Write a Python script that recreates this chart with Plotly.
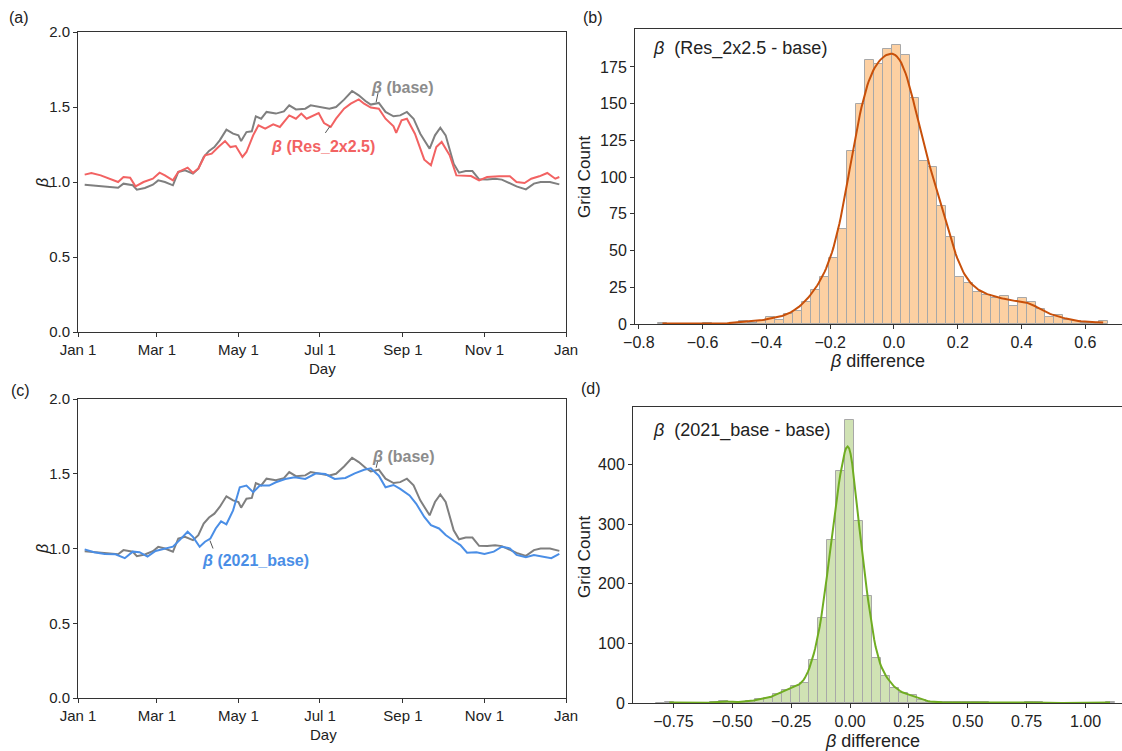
import numpy as np
import plotly.graph_objects as go

W, H = 1122, 751

# ---------------- data ----------------
month_tick_days = [0, 59, 120, 181, 243, 304, 365]
month_tick_text = ["Jan 1", "Mar 1", "May 1", "Jul 1", "Sep 1", "Nov 1", "Jan"]

base_day = [5, 23, 30, 34, 41, 44, 50, 56, 60, 65, 71, 75, 80, 86, 90, 94, 98, 102, 106, 111,
            116, 120, 122, 126, 130, 133, 137, 141, 148, 154, 158, 163, 170, 174, 181, 188,
            193, 199, 205, 210, 215, 219, 225, 230, 236, 241, 246, 251, 256, 263, 267, 271,
            275, 281, 285, 290, 295, 300, 306, 312, 317, 323, 328, 335, 341, 346, 353, 360]
base_beta = [0.982, 0.971, 0.962, 0.989, 0.978, 0.949, 0.960, 0.982, 1.011, 1.000, 0.978,
             1.067, 1.078, 1.056, 1.089, 1.167, 1.207, 1.233, 1.278, 1.349, 1.322, 1.311,
             1.273, 1.333, 1.338, 1.438, 1.422, 1.467, 1.456, 1.471, 1.511, 1.484, 1.489,
             1.511, 1.500, 1.489, 1.500, 1.549, 1.607, 1.578, 1.540, 1.516, 1.527, 1.467,
             1.438, 1.444, 1.467, 1.422, 1.322, 1.222, 1.311, 1.362, 1.311, 1.122, 1.062,
             1.073, 1.073, 1.018, 1.016, 1.022, 1.016, 0.989, 0.971, 0.951, 0.989, 1.000,
             1.000, 0.984]

res_day = [5, 10, 17, 26, 30, 34, 39, 43, 49, 56, 61, 65, 71, 75, 82, 86, 90, 95, 100, 105,
           110, 114, 118, 123, 126, 131, 135, 140, 146, 151, 158, 163, 167, 171, 180, 184,
           189, 193, 199, 204, 210, 214, 219, 225, 230, 236, 238, 242, 246, 252, 259, 264,
           268, 272, 278, 283, 289, 294, 300, 306, 315, 323, 328, 334, 339, 345, 351, 357, 360]
res_beta = [1.049, 1.060, 1.044, 1.016, 1.000, 1.033, 1.029, 0.971, 1.000, 1.022, 1.062,
            1.044, 1.011, 1.067, 1.096, 1.060, 1.089, 1.178, 1.189, 1.233, 1.273, 1.233,
            1.240, 1.167, 1.200, 1.311, 1.378, 1.356, 1.384, 1.367, 1.444, 1.422, 1.456,
            1.422, 1.460, 1.393, 1.367, 1.422, 1.489, 1.522, 1.551, 1.522, 1.496, 1.489,
            1.422, 1.371, 1.327, 1.411, 1.422, 1.322, 1.149, 1.111, 1.233, 1.267, 1.178,
            1.044, 1.044, 1.040, 1.011, 1.033, 1.038, 1.038, 1.000, 0.993, 1.022, 1.038,
            1.060, 1.022, 1.033]

y2021_day = [5, 12, 20, 28, 35, 41, 46, 52, 58, 65, 71, 76, 82, 86, 91, 95, 99, 103, 107, 111,
             116, 121, 126, 131, 136, 143, 148, 155, 162, 170, 178, 185, 192, 200, 207, 214,
             219, 225, 230, 236, 241, 248, 253, 259, 264, 270, 275, 281, 286, 291, 298, 304,
             311, 317, 323, 328, 335, 341, 347, 354, 360]
y2021_beta = [0.994, 0.975, 0.964, 0.961, 0.935, 0.979, 0.975, 0.946, 0.983, 1.001, 1.012,
              1.056, 1.112, 1.078, 1.012, 1.045, 1.067, 1.134, 1.182, 1.162, 1.255, 1.410,
              1.421, 1.377, 1.421, 1.421, 1.443, 1.465, 1.476, 1.465, 1.503, 1.498, 1.465,
              1.472, 1.503, 1.527, 1.536, 1.487, 1.410, 1.425, 1.399, 1.355, 1.299, 1.211,
              1.156, 1.134, 1.090, 1.052, 1.023, 0.972, 0.975, 0.964, 0.979, 1.012, 1.001,
              0.957, 0.941, 0.957, 0.946, 0.935, 0.964]

# histogram (b): Res_2x2.5 - base
hist_b_start = -0.74
hist_b_width = 0.0282
hist_b_counts = [1, 0, 0, 0, 0, 1, 0, 0, 1, 2, 1, 2, 5, 3, 7, 9, 15, 23, 32, 45,
                 65, 118, 150, 180, 177, 187, 190, 183, 154, 111, 107, 80, 59, 32, 28, 22,
                 20, 18, 19, 12, 18, 15, 10, 5, 6, 3, 2, 1, 1, 2]

# histogram (d): 2021_base - base
hist_d_start = -0.825
hist_d_width = 0.0382
hist_d_counts = [0, 1, 0, 0, 0, 0, 1, 4, 1, 2, 3, 6, 8, 15, 22, 28, 34, 73, 142, 274,
                 389, 475, 305, 180, 76, 45, 26, 16, 13, 5, 2, 1, 1, 1, 2, 1, 1, 0, 0, 0,
                 0, 1, 1, 0, 0, 0, 0, 0, 0, 0, 1]

# ---------------- styles ----------------
FONT = "Liberation Sans, Arial, sans-serif"
AX = "#333333"
TXT = "#222222"
GRAY = "#7f7f7f"
RED = "#f26262"
BLUE = "#4a8ee6"


def px(x):
    return x / W


def py(y):
    return 1 - y / H


def kde_counts(start, width, counts):
    counts = np.asarray(counts, float)
    centers = start + width * (np.arange(len(counts)) + 0.5)
    n = counts.sum()
    mean = (centers * counts).sum() / n
    std = np.sqrt(((centers - mean) ** 2 * counts).sum() / n)
    bw = std * n ** (-1 / 5)
    nz = np.nonzero(counts)[0]
    xs = np.linspace(centers[nz[0]], centers[nz[-1]], 300)
    dens = (counts[None, :] * np.exp(-0.5 * ((xs[:, None] - centers[None, :]) / bw) ** 2)
            / (bw * np.sqrt(2 * np.pi))).sum(axis=1)
    return centers, xs, dens * width


fig = go.Figure()

# (a)
fig.add_trace(go.Scatter(x=base_day, y=base_beta, mode="lines", line=dict(color=GRAY, width=2),
                         xaxis="x", yaxis="y", showlegend=False))
fig.add_trace(go.Scatter(x=res_day, y=res_beta, mode="lines", line=dict(color=RED, width=2),
                         xaxis="x", yaxis="y", showlegend=False))
# (c)
fig.add_trace(go.Scatter(x=base_day, y=base_beta, mode="lines", line=dict(color=GRAY, width=2),
                         xaxis="x3", yaxis="y3", showlegend=False))
fig.add_trace(go.Scatter(x=y2021_day, y=y2021_beta, mode="lines", line=dict(color=BLUE, width=2),
                         xaxis="x3", yaxis="y3", showlegend=False))

# (b)
cb, xb, kb = kde_counts(hist_b_start, hist_b_width, hist_b_counts)
fig.add_trace(go.Bar(x=cb, y=hist_b_counts, width=hist_b_width,
                     marker=dict(color="#fdd0a2", line=dict(color="#a8a8a8", width=1)),
                     xaxis="x2", yaxis="y2", showlegend=False))
fig.add_trace(go.Scatter(x=xb, y=kb, mode="lines", line=dict(color="#c8500a", width=2),
                         xaxis="x2", yaxis="y2", showlegend=False))
# (d)
cd, xd, kd = kde_counts(hist_d_start, hist_d_width, hist_d_counts)
fig.add_trace(go.Bar(x=cd, y=hist_d_counts, width=hist_d_width,
                     marker=dict(color="#d0e2b4", line=dict(color="#a8a8a8", width=1)),
                     xaxis="x4", yaxis="y4", showlegend=False))
fig.add_trace(go.Scatter(x=xd, y=kd, mode="lines", line=dict(color="#70ad22", width=2),
                         xaxis="x4", yaxis="y4", showlegend=False))

common = dict(showgrid=False, zeroline=False, showline=True, linecolor=AX, linewidth=1,
              ticks="outside", ticklen=4, tickcolor=AX, tickwidth=1, automargin=False)

line_x = dict(common, range=[0, 365], tickmode="array", tickvals=month_tick_days,
              ticktext=month_tick_text, mirror=True, tickfont=dict(size=15, color=TXT))
line_y = dict(common, range=[0, 2], dtick=0.5, tickformat=".1f", mirror=True,
              tickfont=dict(size=15, color=TXT))

fig.update_layout(
    template="none",
    width=W, height=H, margin=dict(l=0, r=0, t=0, b=0, pad=0, autoexpand=False),
    paper_bgcolor="white", plot_bgcolor="white",
    font=dict(family=FONT, color=TXT),
    bargap=0, barmode="overlay", showlegend=False,
    xaxis=dict(line_x, domain=[px(78), px(566)], anchor="y"),
    yaxis=dict(line_y, domain=[py(332), py(32)], anchor="x"),
    xaxis3=dict(line_x, domain=[px(78), px(566)], anchor="y3"),
    yaxis3=dict(line_y, domain=[py(698), py(399)], anchor="x3"),
    xaxis2=dict(common, domain=[px(635), 1.0], anchor="y2", range=[-0.812, 0.715],
                tickvals=[-0.8, -0.6, -0.4, -0.2, 0.0, 0.2, 0.4, 0.6], tickformat=".1f",
                mirror=True, tickfont=dict(size=16, color=TXT)),
    yaxis2=dict(common, domain=[py(324), py(29)], anchor="x2", range=[0, 200.8],
                tickvals=[0, 25, 50, 75, 100, 125, 150, 175], tickfont=dict(size=16, color=TXT)),
    xaxis4=dict(common, domain=[px(633), 1.0], anchor="y4", range=[-0.922, 1.155],
                tickvals=[-0.75, -0.5, -0.25, 0.0, 0.25, 0.5, 0.75, 1.0], tickformat=".2f",
                mirror=True, tickfont=dict(size=16, color=TXT)),
    yaxis4=dict(common, domain=[py(703), py(407)], anchor="x4", range=[0, 497],
                tickvals=[0, 100, 200, 300, 400], tickfont=dict(size=16, color=TXT)),
)

ann = []


def text(x, y, s, size, color=TXT, angle=0, xanchor="center", bold=False):
    if bold:
        s = "<b>" + s + "</b>"
    ann.append(dict(x=px(x), y=py(y), xref="paper", yref="paper", text=s, showarrow=False,
                    font=dict(size=size, color=color, family=FONT), textangle=angle,
                    xanchor=xanchor, yanchor="middle"))


text(19, 17, "(a)", 16)
text(593, 17, "(b)", 16)
text(20, 390, "(c)", 16)
text(591, 388, "(d)", 16)

text(42, 183, "<i>β</i>", 16, angle=-90)
text(42, 549, "<i>β</i>", 16, angle=-90)
text(322, 368, "Day", 15)
text(323, 734, "Day", 15)

text(402, 87, "<i>β</i> (base)", 16, color="#8c8c8c", bold=True)
text(323, 146, "<i>β</i> (Res_2x2.5)", 16, color=RED, bold=True)
text(403, 456, "<i>β</i> (base)", 16, color="#8c8c8c", bold=True)
text(256, 560, "<i>β</i> (2021_base)", 16, color=BLUE, bold=True)

text(651, 49, "<i>β</i>  (Res_2x2.5 - base)", 18, xanchor="left")
text(651, 430, "<i>β</i>  (2021_base - base)", 18, xanchor="left")
text(584, 177, "Grid Count", 17, angle=-90)
text(584, 557, "Grid Count", 17, angle=-90)
text(877, 361, "<i>β</i> difference", 18)
text(872, 741, "<i>β</i> difference", 18)

fig.update_layout(annotations=ann)

leader = dict(color="#555555", width=1)
fig.update_layout(shapes=[
    dict(type="line", xref="x", yref="y", x0=224.4, y0=1.593, x1=223, y1=1.533, line=leader),
    dict(type="line", xref="x", yref="y", x0=185, y0=1.327, x1=188.5, y1=1.372, line=leader),
    dict(type="line", xref="x3", yref="y3", x0=224.4, y0=1.593, x1=223, y1=1.54, line=leader),
    dict(type="line", xref="x3", yref="y3", x0=101, y0=1.0, x1=98.7, y1=1.053, line=leader),
])

fig.write_html("out.html")
